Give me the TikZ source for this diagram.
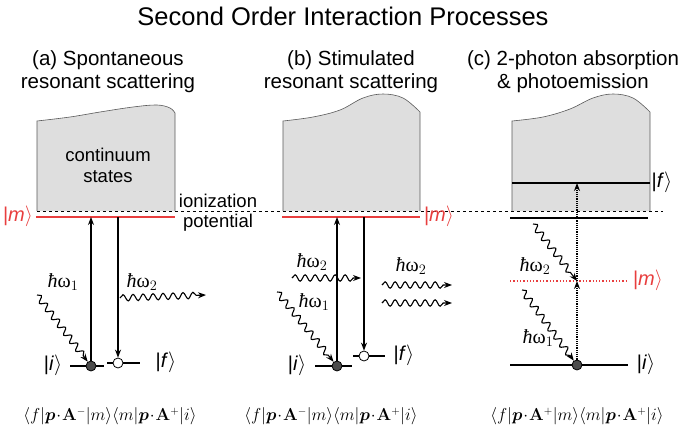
\documentclass[tikz,border=0pt]{standalone}
\usepackage{amsmath}
\usepackage[no-math]{fontspec}
\setmainfont{Liberation Sans}
\newfontfamily\hwfont{Liberation Serif}
\usetikzlibrary{arrows.meta, decorations.pathmorphing}

\definecolor{lvlred}{RGB}{232,62,62}
\definecolor{boxgray}{RGB}{222,222,222}

\begin{document}
\begin{tikzpicture}[x=1pt,y=-1pt,>={Stealth[length=8pt,width=6pt]},thick,
  head/.style={font=\fontsize{20.5}{23}\selectfont,align=center},
  txt/.style={font=\fontsize{18.5}{21}\selectfont,align=center},
  ket/.style={font=\fontsize{20}{22}\selectfont},
  hw/.style={font=\hwfont\fontsize{20}{22}\selectfont},
  eq/.style={font=\fontsize{16}{18}\selectfont},
  level/.style={line width=1.3pt},
  redlevel/.style={line width=1.3pt,lvlred},
  trans/.style={->,line width=1.2pt},
  boxline/.style={line width=0.6pt,gray!70!black},
  full dot/.style={circle,draw,fill=black!70,inner sep=0pt,minimum size=10pt,line width=0.8pt},
  open dot/.style={circle,draw,fill=white,inner sep=0pt,minimum size=10pt,line width=0.8pt},
  photon/.style={->,line width=1.1pt,decorate,decoration={snake,amplitude=3.2pt,segment length=10pt,post length=6pt}}]

  \useasboundingbox (0,0) rectangle (685,436);

  % title and headings
  \node[font=\fontsize{25.5}{30}\selectfont] (title) at (343,16) {Second Order Interaction Processes};
  \node[head] (heada) at (108,72) {(a) Spontaneous\\resonant scattering};
  \node[head] (headb) at (351,72) {(b) Stimulated\\resonant scattering};
  \node[head] (headc) at (573,72) {(c) 2-photon absorption\\\& photoemission};

  % continuum boxes
  \fill[boxgray] (37,211) -- plot[smooth,tension=0.6] coordinates {(37,121) (70,117) (100,112) (133,107) (157,105) (170,108) (175,113)} -- (175,211) -- cycle;
  \draw[boxline] (37,211) -- plot[smooth,tension=0.6] coordinates {(37,121) (70,117) (100,112) (133,107) (157,105) (170,108) (175,113)} -- (175,211);
  \fill[boxgray] (283,211) -- plot[smooth,tension=0.6] coordinates {(283,121) (313,117) (340,110) (363,98) (383,94) (403,98) (420,112)} -- (420,211) -- cycle;
  \draw[boxline] (283,211) -- plot[smooth,tension=0.6] coordinates {(283,121) (313,117) (340,110) (363,98) (383,94) (403,98) (420,112)} -- (420,211);
  \fill[boxgray] (512,211) -- plot[smooth,tension=0.6] coordinates {(512,121) (543,117) (570,109) (593,98) (613,94) (633,98) (650,112)} -- (650,211) -- cycle;
  \draw[boxline] (512,211) -- plot[smooth,tension=0.6] coordinates {(512,121) (543,117) (570,109) (593,98) (613,94) (633,98) (650,112)} -- (650,211);

  \node[txt] (cont) at (108,165) {continuum\\states};

  % ionization potential
  \coordinate (ip1) at (37,211);
  \coordinate (ip2) at (663,211);
  \draw[dashed,line width=0.6pt] (ip1) -- (ip2);
  \node[txt] (ion) at (218,201) {ionization};
  \node[txt] (pot) at (218,223) {potential};

  % (a) spontaneous
  \coordinate (ma1) at (36,217);
  \coordinate (ma2) at (175,217);
  \draw[redlevel] (ma1) -- (ma2);
  \node[ket,lvlred] (kma) at (18,216) {|\textit{m}$\rangle$};
  \node[full dot] (ia) at (91,366) {};
  \node[open dot] (fa) at (118,363) {};
  \draw[level] (70,366) -- (ia) -- (104,366);
  \draw[level] (107,363) -- (fa) -- (140,363);
  \node[ket] (kia) at (53,365) {|\textit{i}$\rangle$};
  \node[ket] (kfa) at (166,362) {|\textit{f}$\rangle$};
  \coordinate (ua) at (91,217);
  \coordinate (da) at (118,217);
  \draw[trans] (ia) -- (ua);
  \draw[trans] (da) -- (fa);
  \coordinate (pa1) at (37,295);
  \coordinate (pa2) at (120,298);
  \coordinate (pa3) at (206,295);
  \draw[photon] (pa1) -- (ia);
  \draw[photon] (pa2) -- (pa3);
  \node[hw] (wa1) at (63,282) {\textit{ħ}ω$_1$};
  \node[hw] (wa2) at (142,282) {\textit{ħ}ω$_2$};

  % (b) stimulated
  \coordinate (mb1) at (282,217);
  \coordinate (mb2) at (420,217);
  \draw[redlevel] (mb1) -- (mb2);
  \node[ket,lvlred] (kmb) at (439,216) {|\textit{m}$\rangle$};
  \node[full dot] (ib) at (337,366) {};
  \node[open dot] (fb) at (364,356) {};
  \draw[level] (315,366) -- (ib) -- (352,366);
  \draw[level] (353,356) -- (fb) -- (385,356);
  \node[ket] (kib) at (297,365) {|\textit{i}$\rangle$};
  \node[ket] (kfb) at (404,355) {|\textit{f}$\rangle$};
  \coordinate (ub) at (337,217);
  \coordinate (db) at (364,217);
  \draw[trans] (ib) -- (ub);
  \draw[trans] (db) -- (fb);
  \coordinate (pb1) at (277,292);
  \coordinate (pb2) at (292,278);
  \coordinate (pb3) at (361,278);
  \coordinate (pb4) at (382,285);
  \coordinate (pb5) at (452,285);
  \coordinate (pb6) at (382,303);
  \coordinate (pb7) at (452,303);
  \draw[photon] (pb1) -- (ib);
  \draw[photon] (pb2) -- (pb3);
  \draw[photon] (pb4) -- (pb5);
  \draw[photon] (pb6) -- (pb7);
  \node[hw] (wb2) at (312,262) {\textit{ħ}ω$_2$};
  \node[hw] (wb1) at (314,302) {\textit{ħ}ω$_1$};
  \node[hw] (wb3) at (411,266) {\textit{ħ}ω$_2$};

  % (c) 2-photon
  \coordinate (fc1) at (512,183);
  \coordinate (fc2) at (650,183);
  \draw[level] (fc1) -- (fc2);
  \node[ket] (kfc) at (662,182) {|\textit{f}$\rangle$};
  \coordinate (lc1) at (510,218);
  \coordinate (lc2) at (648,218);
  \draw[level] (lc1) -- (lc2);
  \coordinate (mc1) at (510,281);
  \coordinate (mc2) at (627,281);
  \draw[redlevel,dotted,line width=1.6pt] (mc1) -- (mc2);
  \node[ket,lvlred] (kmc) at (648,280) {|\textit{m}$\rangle$};
  \coordinate (ic1) at (510,365);
  \coordinate (ic2) at (628,365);
  \draw[level] (ic1) -- (ic2);
  \node[full dot] (ic) at (577,365) {};
  \node[ket] (kic) at (646,364) {|\textit{i}$\rangle$};
  \coordinate (mc) at (577,281);
  \coordinate (fc) at (577,183);
  \draw[trans,densely dotted] (ic) -- (mc);
  \draw[trans,densely dotted] (mc) -- (fc);
  \coordinate (pc1) at (533,224);
  \coordinate (pc2) at (522,290);
  \draw[photon] (pc1) -- (mc);
  \draw[photon] (pc2) -- (ic);
  \node[hw] (wc2) at (535,266) {\textit{ħ}ω$_2$};
  \node[hw] (wc1) at (538,338) {\textit{ħ}ω$_1$};

  % matrix elements
  \node[eq] (eqa) at (110,416) {$\langle f|\boldsymbol{p}\!\cdot\!\mathbf{A}^-|m\rangle\langle m|\boldsymbol{p}\!\cdot\!\mathbf{A}^+|i\rangle$};
  \node[eq] (eqb) at (331,416) {$\langle f|\boldsymbol{p}\!\cdot\!\mathbf{A}^-|m\rangle\langle m|\boldsymbol{p}\!\cdot\!\mathbf{A}^+|i\rangle$};
  \node[eq] (eqc) at (577,416) {$\langle f|\boldsymbol{p}\!\cdot\!\mathbf{A}^+|m\rangle\langle m|\boldsymbol{p}\!\cdot\!\mathbf{A}^+|i\rangle$};
\end{tikzpicture}
\end{document}
